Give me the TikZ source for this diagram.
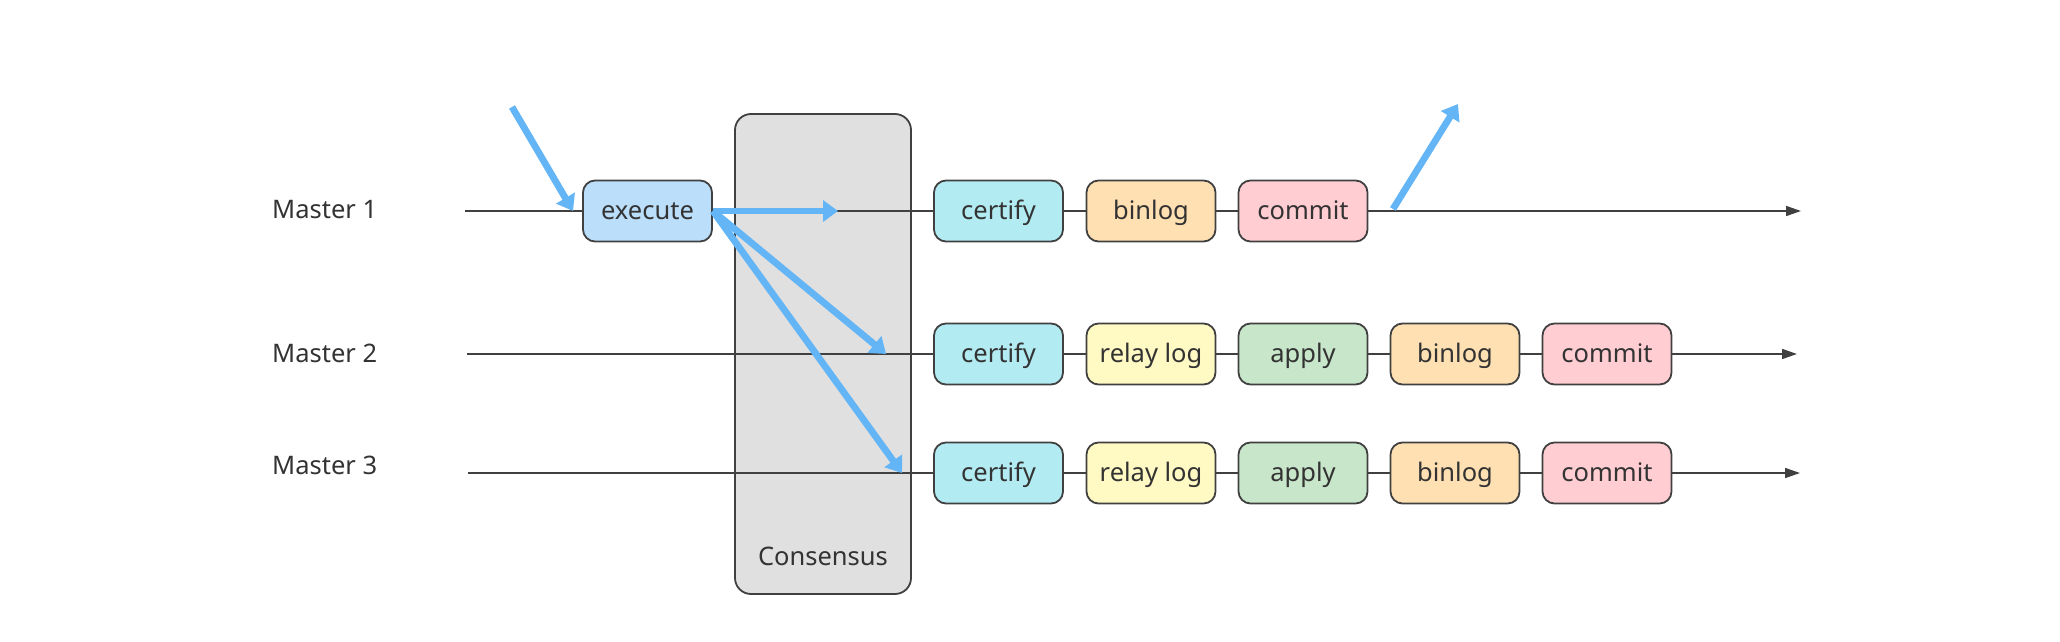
\documentclass[tikz,border=0pt]{standalone}
\usepackage{fontspec}
\setmainfont{Noto Sans}
\usetikzlibrary{arrows.meta}
\definecolor{bluearr}{HTML}{64B5F6}
\definecolor{execfill}{HTML}{BBDEFB}
\definecolor{certfill}{HTML}{B2EBF2}
\definecolor{binfill}{HTML}{FFE0B2}
\definecolor{comfill}{HTML}{FFCDD2}
\definecolor{relayfill}{HTML}{FFF9C4}
\definecolor{applyfill}{HTML}{C8E6C9}
\definecolor{consfill}{HTML}{E0E0E0}
\definecolor{stroke}{HTML}{404040}
\definecolor{txt}{HTML}{333333}
\tikzset{
  stepbox/.style={draw=stroke, line width=1.8pt, rounded corners=12pt, minimum width=129pt, minimum height=61pt, inner sep=0pt, text height=22pt, text depth=5pt, text=txt, font=\fontsize{25.5pt}{30pt}\selectfont},
  lbl/.style={text=txt, font=\fontsize{25.5pt}{30pt}\selectfont, anchor=west, inner sep=0pt},
  tl/.style={draw=stroke, line width=1.6pt},
  tlarr/.style={tl, -{Triangle[length=15pt,width=10pt]}},
  blarr/.style={draw=bluearr, line width=6.8pt, -{Triangle[length=15pt,width=21pt]}},
}
\begin{document}
\begin{tikzpicture}[x=1pt,y=-1pt]
\useasboundingbox (0,0) rectangle (2060,642);
% consensus
\node[draw=stroke, line width=1.8pt, fill=consfill, rounded corners=16pt, minimum width=176pt, minimum height=480pt, inner sep=0pt] (cons) at (823,354) {};
\node[text=txt, font=\fontsize{25.5pt}{30pt}\selectfont, inner sep=0pt] (constext) at (823,556) {Consensus};
% labels
\node[lbl] (m1) at (272,210) {Master 1};
\node[lbl] (m2) at (272,353) {Master 2};
\node[lbl] (m3) at (272,465) {Master 3};
% start / end coords
\coordinate (s1) at (465,211);
\coordinate (s2) at (467,354);
\coordinate (s3) at (468,473);
\coordinate (e1) at (1801,211);
\coordinate (e2) at (1797,354);
\coordinate (e3) at (1800,473);
% row 1
\node[stepbox, fill=execfill] (ex) at (647.5,211) {execute};
\node[stepbox, fill=certfill] (c1) at (998.5,211) {certify};
\node[stepbox, fill=binfill] (b1) at (1151,211) {binlog};
\node[stepbox, fill=comfill] (k1) at (1303,211) {commit};
% row 2
\node[stepbox, fill=certfill] (c2) at (998.5,354) {certify};
\node[stepbox, fill=relayfill] (r2) at (1151,354) {relay log};
\node[stepbox, fill=applyfill] (a2) at (1303,354) {apply};
\node[stepbox, fill=binfill] (b2) at (1455,354) {binlog};
\node[stepbox, fill=comfill] (k2) at (1607,354) {commit};
% row 3
\node[stepbox, fill=certfill] (c3) at (998.5,473) {certify};
\node[stepbox, fill=relayfill] (r3) at (1151,473) {relay log};
\node[stepbox, fill=applyfill] (a3) at (1303,473) {apply};
\node[stepbox, fill=binfill] (b3) at (1455,473) {binlog};
\node[stepbox, fill=comfill] (k3) at (1607,473) {commit};
% timelines
\draw[tl] (s1) -- (ex.west);
\draw[tl] (ex.east) -- (c1.west);
\draw[tl] (c1.east) -- (b1.west);
\draw[tl] (b1.east) -- (k1.west);
\draw[tlarr] (k1.east) -- (e1);
\draw[tl] (s2) -- (c2.west);
\draw[tl] (c2.east) -- (r2.west);
\draw[tl] (r2.east) -- (a2.west);
\draw[tl] (a2.east) -- (b2.west);
\draw[tl] (b2.east) -- (k2.west);
\draw[tlarr] (k2.east) -- (e2);
\draw[tl] (s3) -- (c3.west);
\draw[tl] (c3.east) -- (r3.west);
\draw[tl] (r3.east) -- (a3.west);
\draw[tl] (a3.east) -- (b3.west);
\draw[tl] (b3.east) -- (k3.west);
\draw[tlarr] (k3.east) -- (e3);
% blue arrows
\coordinate (in0) at (512,107);
\coordinate (in1) at (573,211);
\coordinate (h1) at (838,211);
\coordinate (d2) at (886,354);
\coordinate (d3) at (902,473);
\coordinate (o0) at (1393,209);
\coordinate (o1) at (1458,104);
\draw[blarr] (in0) -- (in1);
\draw[blarr] (ex.east) -- (h1);
\draw[blarr] (ex.east) -- (d2);
\draw[blarr] (ex.east) -- (d3);
\draw[blarr] (o0) -- (o1);
\end{tikzpicture}
\end{document}
